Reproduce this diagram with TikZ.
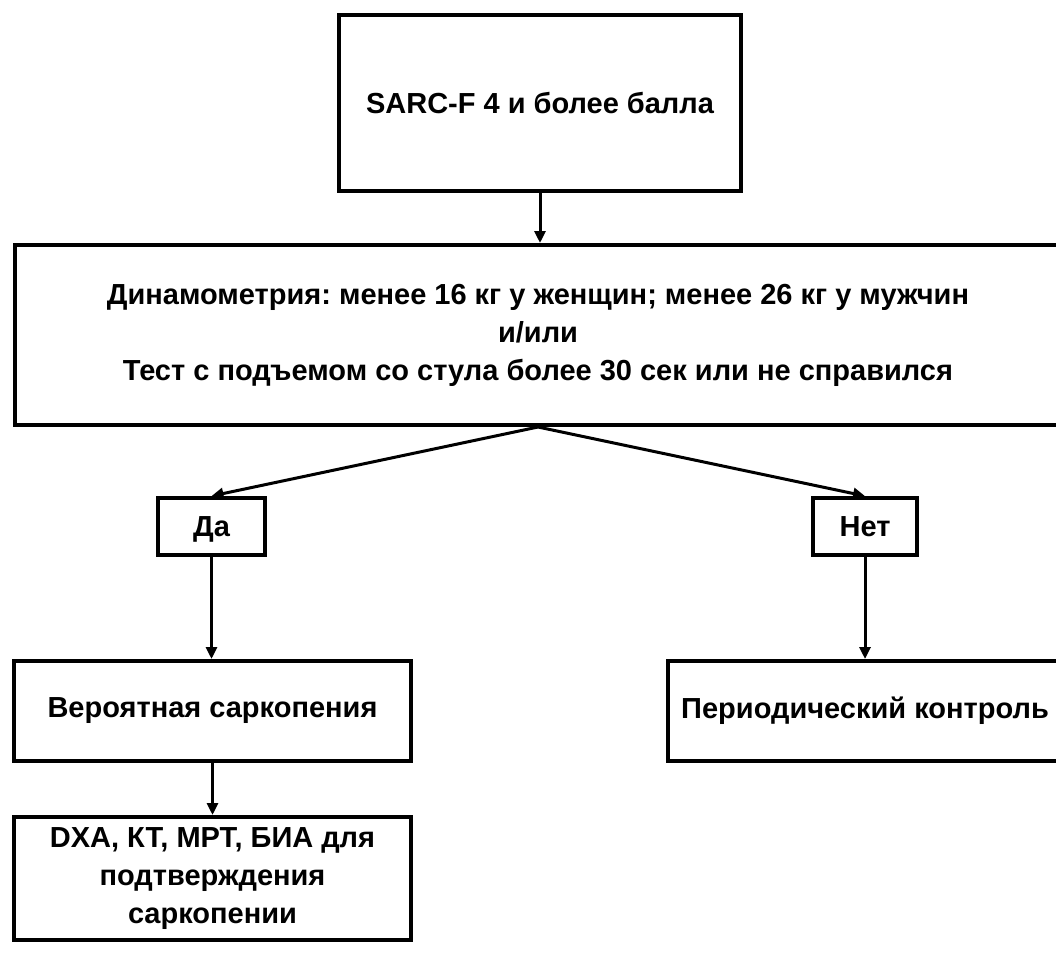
\documentclass[tikz,border=0pt]{standalone}
\usepackage{fontspec}
\setmainfont{Liberation Sans}
\usetikzlibrary{arrows.meta}
\frenchspacing
\tikzset{
  box/.style={draw=black, line width=4pt, inner sep=0pt, align=center,
    font=\fontsize{29}{38}\selectfont\bfseries},
  conn/.style={line width=3pt, -{Triangle[length=12pt,width=11pt]}}
}
\begin{document}
\begin{tikzpicture}[x=1pt,y=-1pt]
\useasboundingbox (0,0) rectangle (1056,953);
\node[box, minimum width=402pt, minimum height=176pt] (top) at (540,103) {SARC-F 4 и более балла};
\node[box, minimum width=1046pt, minimum height=180pt] (mid) at (538,335)
  {Динамометрия: менее 16 кг у женщин; менее 26 кг у мужчин\\и/или\\Тест с подъемом со стула более 30 сек или не справился};
\node[box, minimum width=107pt, minimum height=57pt, text depth=0pt] (da) at (211.5,526.5) {Да};
\node[box, minimum width=104pt, minimum height=57pt, text depth=0pt] (net) at (865,526.5) {Нет};
\node[box, minimum width=397pt, minimum height=100pt] (ver) at (212.5,711) {Вероятная саркопения};
\node[box, minimum width=394pt, minimum height=100pt] (per) at (865,711) {Периодический контроль};
\node[box, minimum width=397pt, minimum height=123pt] (dxa) at (212.5,878.5)
  {DXA, КТ, МРТ, БИА для\\подтверждения\\саркопении};
\draw[conn] (top.south) -- (top.south |- mid.north);
\draw[conn] (mid.south) -- (da.north);
\draw[conn] (mid.south) -- (net.north);
\draw[conn] (da.south) -- (da.south |- ver.north);
\draw[conn] (net.south) -- (net.south |- per.north);
\draw[conn] (ver.south) -- (dxa.north);
\end{tikzpicture}
\end{document}
